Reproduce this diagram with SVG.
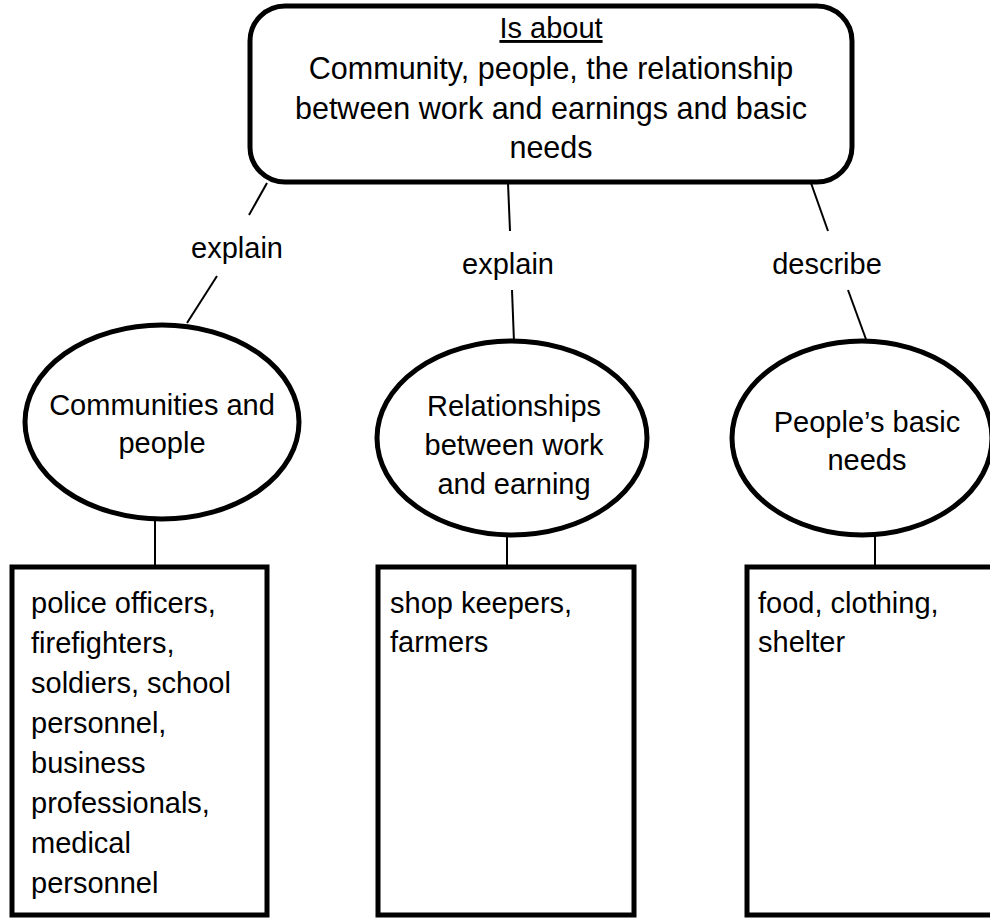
<svg xmlns="http://www.w3.org/2000/svg" width="990" height="918" viewBox="0 0 990 918">
<style>
.shape{fill:#fff;stroke:#000;stroke-width:5}
.conn{stroke:#000;stroke-width:2;fill:none}
text{font-family:"Liberation Sans",Arial,sans-serif;font-size:29px;fill:#000}
.c{text-anchor:middle}
.big{font-size:30.5px}
</style>
<rect width="990" height="918" fill="#fff"/>
<g id="connectors">
<line class="conn" x1="267" y1="183" x2="249" y2="215"/>
<line class="conn" x1="217" y1="276" x2="187" y2="323"/>
<line class="conn" x1="508" y1="183" x2="510" y2="231"/>
<line class="conn" x1="512" y1="290" x2="514" y2="342"/>
<line class="conn" x1="811" y1="183" x2="828" y2="231"/>
<line class="conn" x1="848" y1="290" x2="867" y2="342"/>
<line class="conn" x1="155" y1="520" x2="155" y2="567"/>
<line class="conn" x1="507" y1="535" x2="507" y2="567"/>
<line class="conn" x1="875" y1="535" x2="875" y2="567"/>
<text class="c" x="237" y="258">explain</text>
<text class="c" x="508" y="274">explain</text>
<text class="c" x="827" y="274">describe</text>
</g>
<g id="top">
<rect class="shape" x="250" y="6" width="602" height="176" rx="35"/>
<text class="c" x="551" y="38" text-decoration="underline">Is about</text>
<text class="c big" x="551" y="79">Community, people, the relationship</text>
<text class="c big" x="551" y="119">between work and earnings and basic</text>
<text class="c big" x="551" y="158">needs</text>
</g>
<g id="communities">
<ellipse class="shape" cx="162" cy="422" rx="137" ry="97"/>
<text class="c" x="162" y="415">Communities and</text>
<text class="c" x="162" y="453">people</text>
</g>
<g id="relationships">
<ellipse class="shape" cx="512" cy="438" rx="135" ry="97"/>
<text class="c" x="514" y="416">Relationships</text>
<text class="c" x="514" y="455">between work</text>
<text class="c" x="514" y="494">and earning</text>
</g>
<g id="needs">
<ellipse class="shape" cx="862" cy="438" rx="130" ry="97"/>
<text class="c" x="867" y="432">People’s basic</text>
<text class="c" x="867" y="470">needs</text>
</g>
<g id="box1">
<rect class="shape" x="12" y="567" width="255" height="348"/>
<text x="31" y="613">police officers,</text>
<text x="31" y="653">firefighters,</text>
<text x="31" y="693">soldiers, school</text>
<text x="31" y="733">personnel,</text>
<text x="31" y="773">business</text>
<text x="31" y="813">professionals,</text>
<text x="31" y="853">medical</text>
<text x="31" y="893">personnel</text>
</g>
<g id="box2">
<rect class="shape" x="378" y="567" width="256" height="348"/>
<text x="390" y="613">shop keepers,</text>
<text x="390" y="652">farmers</text>
</g>
<g id="box3">
<rect class="shape" x="747" y="567" width="260" height="348"/>
<text x="758" y="613">food, clothing,</text>
<text x="758" y="652">shelter</text>
</g>
</svg>
